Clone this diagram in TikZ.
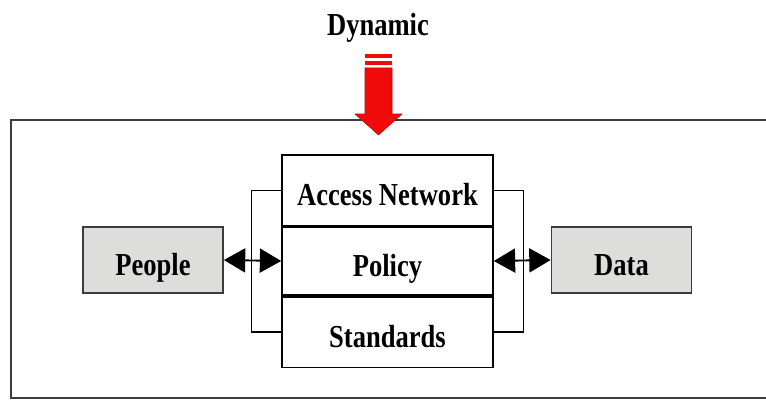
\documentclass[tikz,border=0pt]{standalone}
\usepackage{fontspec}
\usetikzlibrary{arrows.meta}
\newfontfamily\lblfont{Liberation Serif}[FakeStretch=0.83]
\definecolor{boxgray}{RGB}{221,222,220}
\definecolor{framegray}{RGB}{60,60,60}
\definecolor{arrowred}{RGB}{240,10,10}
\tikzset{
  lbl/.style={font=\lblfont\bfseries\fontsize{24}{26}\selectfont, text=black,
    text height=23pt, text depth=0pt},
  sidebox/.style={lbl, draw=framegray, line width=1.3pt, fill=boxgray,
    minimum width=105pt, minimum height=49.5pt, inner sep=0pt},
  layer/.style={lbl, draw=black, line width=1.2pt, fill=white,
    minimum width=158.25pt, minimum height=53pt, inner sep=0pt},
  link/.style={draw=black, line width=1pt},
  both/.style={link, line width=1.4pt,
    {Triangle[length=16pt,width=18pt]}-{Triangle[length=16pt,width=18pt]}}
}
\begin{document}
\begin{tikzpicture}[x=0.75pt, y=-0.75pt]
  \useasboundingbox (0,0) rectangle (766,403);
  \fill[white] (0,0) rectangle (766,403);

  % outer frame, open to the right
  \draw[framegray, line width=1.5pt] (766,120) -- (11,120) -- (11,398) -- (766,398);

  % title and incoming arrow
  \node[lbl] (dyn) at (378,20) {Dynamic};
  \fill[arrowred] (365,54) rectangle (392,58);
  \fill[arrowred] (365,61) rectangle (392,65);
  \filldraw[fill=arrowred, draw=arrowred!80!black, line width=0.4pt]
    (365,68) -- (392,68) -- (392,114) -- (402,114) -- (378.5,135)
    -- (355,114) -- (365,114) -- cycle;

  % layered core
  \node[layer] (access) at (387.5,190.5) {Access Network};
  \node[layer] (policy) at (387.5,261) {Policy};
  \node[layer] (std) at (387.5,332) {Standards};
  \draw[black, line width=2.6pt] (access.south west) -- (access.south east);
  \draw[black, line width=2.6pt] (std.north west) -- (std.north east);

  % side blocks
  \node[sidebox] (people) at (153,260) {People};
  \node[sidebox] (data) at (621.5,260) {Data};

  % brackets joining the top and bottom layers
  \draw[link] (access.west) -- ++(-30,0) |- (std.west);
  \draw[link] (access.east) -- ++(30,0) |- (std.east);

  % two-way links
  \draw[both] (people.east) -- (policy.west);
  \draw[both] (policy.east) -- (data.west);
\end{tikzpicture}
\end{document}
